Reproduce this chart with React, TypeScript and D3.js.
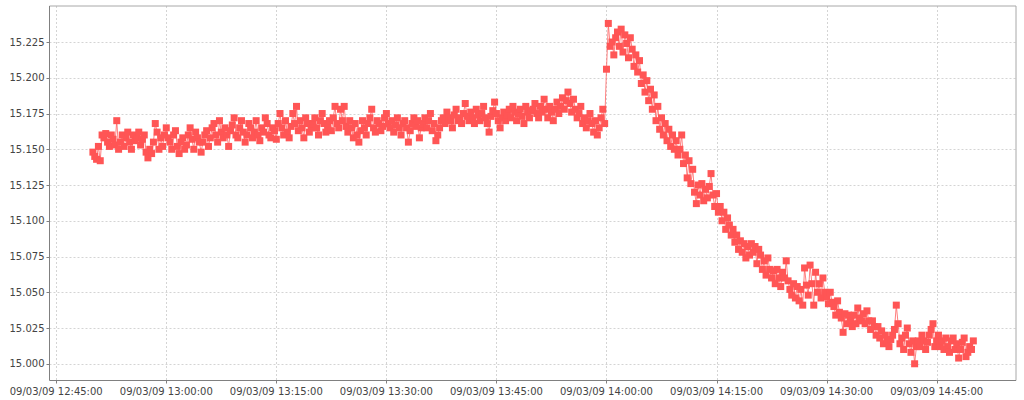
import React from "react";
import * as d3 from "d3";

const W = 1024;
const H = 400;

// series values, one reading every 15 s starting 09/03/09 12:50:00
const seg1250 = [
  15.148, 15.145, 15.143, 15.152, 15.142, 15.160, 15.158, 15.161, 15.155, 15.152,
  15.160, 15.157, 15.153, 15.170, 15.150, 15.155, 15.160, 15.152, 15.158, 15.162,
  15.155, 15.150, 15.160, 15.156, 15.158, 15.162, 15.153, 15.157, 15.160, 15.148,
  15.144, 15.150, 15.147, 15.155, 15.168, 15.162, 15.150, 15.158, 15.152, 15.160,
  15.165, 15.158, 15.155, 15.150, 15.160, 15.163, 15.152, 15.147, 15.155, 15.158,
  15.150, 15.153, 15.160, 15.165, 15.157, 15.150, 15.162, 15.158, 15.155, 15.148,
];
const seg1305 = [
  15.155, 15.160, 15.163, 15.152, 15.158, 15.165, 15.168, 15.160, 15.155, 15.170,
  15.162, 15.158, 15.165, 15.160, 15.152, 15.163, 15.167, 15.172, 15.160, 15.158,
  15.165, 15.170, 15.162, 15.155, 15.160, 15.168, 15.165, 15.158, 15.162, 15.170,
  15.160, 15.156, 15.165, 15.162, 15.172, 15.168, 15.160, 15.158, 15.165, 15.163,
  15.157, 15.168, 15.175, 15.165, 15.160, 15.170, 15.162, 15.158, 15.166, 15.175,
  15.168, 15.180, 15.163, 15.170, 15.165, 15.158, 15.172, 15.168, 15.162, 15.165,
];
const seg1320 = [
  15.168, 15.172, 15.165, 15.160, 15.170, 15.175, 15.168, 15.162, 15.166, 15.170,
  15.163, 15.172, 15.180, 15.168, 15.165, 15.178, 15.170, 15.180, 15.166, 15.162,
  15.170, 15.165, 15.158, 15.168, 15.160, 15.155, 15.163, 15.170, 15.165, 15.160,
  15.168, 15.172, 15.178, 15.165, 15.162, 15.170, 15.168, 15.163, 15.166, 15.172,
  15.175, 15.168, 15.165, 15.170, 15.162, 15.167, 15.172, 15.165, 15.160, 15.168,
  15.170, 15.165, 15.155, 15.163, 15.168, 15.172, 15.166, 15.170, 15.158, 15.165,
];
const seg1335 = [
  15.168, 15.172, 15.165, 15.170, 15.175, 15.163, 15.168, 15.156, 15.160, 15.165,
  15.170, 15.172, 15.168, 15.176, 15.172, 15.170, 15.165, 15.174, 15.178, 15.170,
  15.172, 15.168, 15.175, 15.182, 15.173, 15.170, 15.176, 15.172, 15.168, 15.178,
  15.174, 15.170, 15.175, 15.180, 15.172, 15.168, 15.162, 15.173, 15.177, 15.183,
  15.175, 15.170, 15.165, 15.172, 15.176, 15.170, 15.174, 15.178, 15.172, 15.180,
  15.176, 15.170, 15.175, 15.178, 15.173, 15.168, 15.180, 15.176, 15.172, 15.177,
];
const seg1350 = [
  15.178, 15.182, 15.175, 15.172, 15.180, 15.176, 15.185, 15.178, 15.172, 15.180,
  15.176, 15.170, 15.178, 15.183, 15.175, 15.180, 15.186, 15.178, 15.184, 15.190,
  15.182, 15.176, 15.185, 15.178, 15.172, 15.175, 15.180, 15.168, 15.172, 15.165,
  15.170, 15.175, 15.168, 15.162, 15.170, 15.160, 15.165, 15.172, 15.178, 15.168,
  15.206, 15.238, 15.222, 15.225, 15.216, 15.228, 15.232, 15.222, 15.234, 15.218,
  15.230, 15.224, 15.214, 15.228, 15.220, 15.208, 15.216, 15.204, 15.212, 15.196,
];
const seg1405 = [
  15.202, 15.190, 15.198, 15.184, 15.192, 15.178, 15.188, 15.170, 15.180, 15.164,
  15.172, 15.160, 15.168, 15.156, 15.164, 15.152, 15.160, 15.150, 15.156, 15.146,
  15.150, 15.160, 15.140, 15.146, 15.130, 15.142, 15.126, 15.136, 15.120, 15.112,
  15.125, 15.118, 15.126, 15.114, 15.122, 15.116, 15.124, 15.133, 15.118, 15.110,
  15.119, 15.106, 15.110, 15.100, 15.106, 15.094, 15.102, 15.097, 15.090, 15.094,
  15.085, 15.090, 15.080, 15.086, 15.078, 15.084, 15.074, 15.082, 15.076, 15.084,
];
const seg1420 = [
  15.078, 15.082, 15.070, 15.080, 15.076, 15.066, 15.072, 15.062, 15.074, 15.066,
  15.060, 15.065, 15.056, 15.066, 15.060, 15.054, 15.064, 15.060, 15.072, 15.058,
  15.052, 15.048, 15.056, 15.046, 15.054, 15.044, 15.052, 15.041, 15.067, 15.055,
  15.048, 15.069, 15.056, 15.041, 15.064, 15.050, 15.056, 15.046, 15.060, 15.050,
  15.047, 15.042, 15.050, 15.043, 15.040, 15.034, 15.044, 15.036, 15.032, 15.022,
  15.035, 15.028, 15.034, 15.030, 15.026, 15.034, 15.028, 15.039, 15.032, 15.030,
];
const seg1435 = [
  15.035, 15.028, 15.037, 15.030, 15.024, 15.030, 15.026, 15.020, 15.026, 15.018,
  15.023, 15.014, 15.020, 15.016, 15.012, 15.017, 15.020, 15.024, 15.041, 15.028,
  15.014, 15.018, 15.010, 15.020, 15.025, 15.014, 15.008, 15.016, 15.000, 15.012,
  15.016, 15.012, 15.020, 15.016, 15.010, 15.015, 15.020, 15.024, 15.028, 15.012,
  15.016, 15.020, 15.012, 15.016, 15.010, 15.018, 15.012, 15.008, 15.016, 15.018,
  15.010, 15.014, 15.004, 15.010, 15.015, 15.018, 15.005, 15.008, 15.012, 15.010,
  15.016,
];

const yTickValues = [15.0, 15.025, 15.05, 15.075, 15.1, 15.125, 15.15, 15.175, 15.2, 15.225];
const xTickTimes = ["12:45", "13:00", "13:15", "13:30", "13:45", "14:00", "14:15", "14:30", "14:45"];

const values = [
  ...seg1250, ...seg1305, ...seg1320, ...seg1335,
  ...seg1350, ...seg1405, ...seg1420, ...seg1435,
];

const day = (h: number, m: number, s = 0) => new Date(2009, 2, 9, h, m, s);
const start = day(12, 50, 0);
const data = values.map((v, i) => ({ t: new Date(start.getTime() + i * 15000), v }));
const xTicks = xTickTimes.map((s) => {
  const [h, m] = s.split(":").map(Number);
  return day(h, m);
});

const left = 49.5;
const right = 1016;
const top = 6;
const bottom = 380.5;

const x = d3.scaleTime().domain([day(12, 44, 5), day(14, 55, 49)]).range([left, right]);
const y = d3.scaleLinear().domain([14.9883, 15.2502]).range([bottom, top]);
const fmt = d3.timeFormat("%d/%m/%y %H:%M:%S");

const COLOR = "#FF5555";
const FONT = "'DejaVu Sans', sans-serif";
const MS = 7;

export default function App() {
  const line = d3
    .line<{ t: Date; v: number }>()
    .x((d) => x(d.t))
    .y((d) => y(d.v));
  return (
    <svg
      width={W}
      height={H}
      style={{ position: "absolute", left: 0, top: 0, background: "#fff" }}
    >
      <rect x={0} y={0} width={W} height={H} fill="#fff" />
      <rect x={left} y={top} width={right - left} height={bottom - top} fill="#fff" />
      {yTickValues.map((v) => (
        <line
          key={"gy" + v}
          x1={left}
          x2={right}
          y1={Math.round(y(v)) + 0.5}
          y2={Math.round(y(v)) + 0.5}
          stroke="#d4d4d4"
          strokeDasharray="2,2"
        />
      ))}
      {xTicks.map((t) => (
        <line
          key={"gx" + t.getTime()}
          x1={Math.round(x(t)) + 0.5}
          x2={Math.round(x(t)) + 0.5}
          y1={top}
          y2={bottom}
          stroke="#d4d4d4"
          strokeDasharray="2,2"
        />
      ))}
      <path d={line(data) || ""} fill="none" stroke={COLOR} strokeOpacity={0.75} strokeWidth={1} />
      {data.map((d, i) => (
        <rect
          key={i}
          x={x(d.t) - MS / 2}
          y={y(d.v) - MS / 2}
          width={MS}
          height={MS}
          fill={COLOR}
        />
      ))}
      {/* outline */}
      <line x1={left} x2={right} y1={top} y2={top} stroke="#a8a8a8" />
      <line x1={right} x2={right} y1={top} y2={bottom} stroke="#a8a8a8" />
      <line x1={left} x2={left} y1={top} y2={bottom} stroke="#808080" />
      <line x1={left} x2={right} y1={bottom} y2={bottom} stroke="#808080" />
      {yTickValues.map((v) => (
        <g key={"ty" + v}>
          <line
            x1={left - 3}
            x2={left}
            y1={Math.round(y(v)) + 0.5}
            y2={Math.round(y(v)) + 0.5}
            stroke="#808080"
          />
          <text
            x={left - 5}
            y={y(v) + 3.5}
            textAnchor="end"
            fontFamily={FONT}
            fontSize={10}
            fill="#444"
          >
            {v.toFixed(3)}
          </text>
        </g>
      ))}
      {xTicks.map((t) => (
        <g key={"tx" + t.getTime()}>
          <line
            x1={Math.round(x(t)) + 0.5}
            x2={Math.round(x(t)) + 0.5}
            y1={bottom}
            y2={bottom + 3}
            stroke="#808080"
          />
          <text
            x={x(t)}
            y={395}
            textAnchor="middle"
            fontFamily={FONT}
            fontSize={10}
            fill="#444"
          >
            {fmt(t)}
          </text>
        </g>
      ))}
    </svg>
  );
}
